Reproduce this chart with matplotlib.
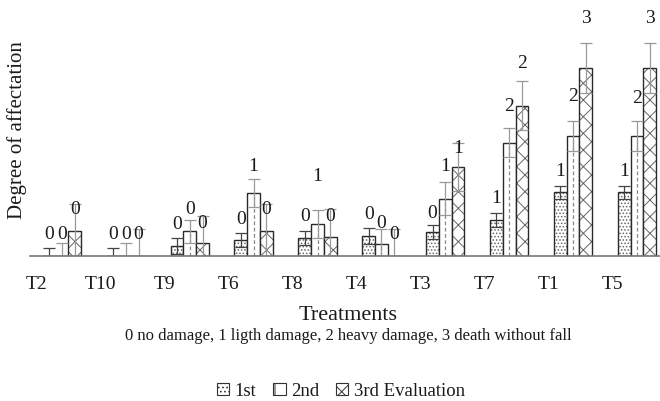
import numpy as np
import matplotlib
matplotlib.use("Agg")
from matplotlib import pyplot as plt
from matplotlib.patches import Patch

plt.rcParams['font.family'] = ['Liberation Serif', 'DejaVu Serif']
plt.rcParams['hatch.linewidth'] = 0.7

groups = ["T2", "T10", "T9", "T6", "T8", "T4", "T3", "T7", "T1", "T5"]

first = [0, 0, 0.15, 0.25, 0.28, 0.31, 0.37, 0.55, 0.98, 0.98]
first_err = [0.12, 0.12, 0.12, 0.11, 0.11, 0.12, 0.11, 0.11, 0.10, 0.10]
second = [0, 0, 0.38, 0.97, 0.49, 0.18, 0.88, 1.74, 1.85, 1.85]
second_err = [0.2, 0.2, 0.18, 0.22, 0.22, 0.23, 0.25, 0.22, 0.23, 0.23]
third = [0.38, 0, 0.2, 0.38, 0.29, 0, 1.37, 2.31, 2.89, 2.89]
third_err = [0.42, 0.42, 0.42, 0.42, 0.43, 0.42, 0.37, 0.38, 0.38, 0.38]

# rounded damage class written over each bar
first_lab = ["0", "0", "0", "0", "0", "0", "0", "1", "1", "1"]
second_lab = ["0", "0", "0", "1", "1", "0", "1", "2", "2", "2"]
third_lab = ["0", "0", "0", "0", "0", "0", "1", "2", "3", "3"]

# height where each label sits (hand placed in the original)
first_ly = [0.22, 0.22, 0.37, 0.45, 0.49, 0.52, 0.54, 0.77, 1.18, 1.18]
second_ly = [0.22, 0.22, 0.6, 1.26, 1.11, 0.38, 1.26, 2.18, 2.34, 2.31]
third_ly = [0.6, 0.22, 0.38, 0.6, 0.49, 0.22, 1.54, 2.85, 3.54, 3.54]

series = ["1st", "2nd", "3rd Evaluation"]

fig = plt.figure(figsize=(6.6, 4.02), dpi=100)
ax = fig.add_axes([30 / 660, 145 / 402, 630 / 660, 257 / 402])

x = np.arange(len(groups))
w = 0.2
hatches = ['.....', '', 'xx']
ecols = ['#444444', '#999999', '#999999']
data = [(first, first_err, first_lab, first_ly),
        (second, second_err, second_lab, second_ly),
        (third, third_err, third_lab, third_ly)]

for k, (vals, errs, labs, lys) in enumerate(data):
    xs = x + (k - 1) * w
    vals = np.array(vals)
    # hatch layer, then black outline on top
    ax.bar(xs, vals, w, color='white', edgecolor='#666666', hatch=hatches[k], linewidth=0)
    ax.bar(xs, vals, w, color='none', edgecolor='#2a2a2a', linewidth=1.0)
    if k == 1:
        ax.vlines(xs, 0, vals, colors='#888888', linestyles=(0, (3, 2)), linewidth=0.9)
    ax.errorbar(xs, vals, yerr=errs, fmt='none', ecolor=ecols[k], elinewidth=0.9,
                capsize=4, capthick=0.9)
    for xi, ly, lab in zip(xs, lys, labs):
        ax.text(xi, ly, lab, ha='center', va='bottom', fontsize=14, color='#1a1a1a')

ax.set_xlim(-0.5, 9.36)
ax.set_ylim(0, 3.95)
for s in ['top', 'right', 'left']:
    ax.spines[s].set_visible(False)
ax.spines['bottom'].set_color('#777777')
ax.spines['bottom'].set_linewidth(1.2)
ax.set_yticks([])
ax.set_xticks(x - 0.39)
ax.set_xticklabels(groups, fontsize=14, color='#1a1a1a')
ax.tick_params(axis='x', length=0, pad=14)

fig.text(17 / 660, 1 - 130 / 402, "Degree of affectation", rotation=90,
         ha='center', va='center', fontsize=15, color='#1a1a1a')
fig.text(348 / 660, 1 - 315 / 402, "Treatments", ha='center', va='center',
         fontsize=16, color='#1a1a1a')
fig.text(348 / 660, 1 - 336 / 402,
         "0 no damage, 1 ligth damage, 2 heavy damage, 3 death without fall",
         ha='center', va='center', fontsize=12, color='#1a1a1a')

handles = [Patch(facecolor='white', edgecolor='#333333', hatch=h, linewidth=0.8) for h in ['....', '|', 'xx']]
fig.legend(handles, series, loc='center', bbox_to_anchor=(341 / 660, 1 - 392 / 402),
           ncol=3, frameon=False, fontsize=13.5, handlelength=0.65, handleheight=0.65,
           handletextpad=0.3, columnspacing=0.9, labelcolor='#1a1a1a')

fig.savefig("out.png", dpi=100)
